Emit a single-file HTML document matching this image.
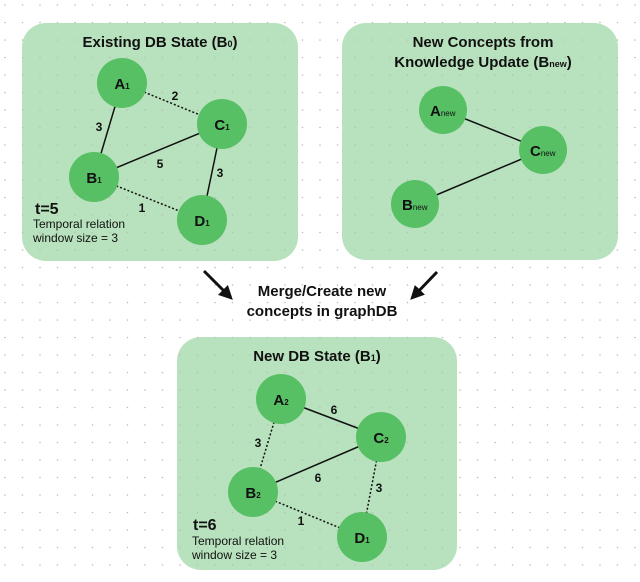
<!DOCTYPE html>
<html><head><style>
body{margin:0;width:640px;height:577px;overflow:hidden;background:#fff;}
svg text{font-family:"Liberation Sans",sans-serif;}
</style></head><body>
<svg width="640" height="577" xmlns="http://www.w3.org/2000/svg">
<defs>
<pattern id="dots" width="17.5" height="17.5" patternUnits="userSpaceOnUse" x="4" y="4">
<circle cx="1" cy="1" r="0.8" fill="#bbb"/>
</pattern>
<marker id="ah" markerWidth="14" markerHeight="14" refX="10" refY="7" orient="auto" markerUnits="userSpaceOnUse">
<path d="M0,0 L14,7 L0,14 z" fill="#111"/>
</marker>
</defs>
<rect width="640" height="577" fill="url(#dots)"/>
<rect x="22" y="23" width="276" height="238" rx="24" fill="#b7e2bd"/>
<rect x="342" y="23" width="276" height="237" rx="24" fill="#b7e2bd"/>
<rect x="177" y="337" width="280" height="233" rx="24" fill="#b7e2bd"/>
<rect x="22" y="23" width="276" height="238" rx="24" fill="url(#dots)"/>
<rect x="342" y="23" width="276" height="237" rx="24" fill="url(#dots)"/>
<rect x="177" y="337" width="280" height="233" rx="24" fill="url(#dots)"/>

<g font-weight="bold" font-size="15" text-anchor="middle" fill="#111">
<text x="160" y="47">Existing DB State (B<tspan font-size="9">0</tspan>)</text>
<text x="483" y="47">New Concepts from</text>
<text x="483" y="67">Knowledge Update (B<tspan font-size="9">new</tspan>)</text>
<text x="322" y="296">Merge/Create new</text>
<text x="322" y="316">concepts in graphDB</text>
<text x="317" y="361">New DB State (B<tspan font-size="9">1</tspan>)</text>
</g>

<line x1="204" y1="271" x2="230" y2="297" stroke="#111" stroke-width="3" marker-end="url(#ah)"/>
<line x1="437" y1="272" x2="413" y2="297" stroke="#111" stroke-width="3" marker-end="url(#ah)"/>

<!-- graph 1 -->
<g stroke="#111" stroke-width="1.5">
<line x1="122" y1="83" x2="94" y2="177"/>
<line x1="222" y1="124" x2="94" y2="177"/>
<line x1="222" y1="124" x2="202" y2="220"/>
<line x1="122" y1="83" x2="222" y2="124" stroke-dasharray="2,2"/>
<line x1="94" y1="177" x2="202" y2="220" stroke-dasharray="2,2"/>
</g>
<g fill="#57bf64">
<circle cx="122" cy="83" r="25"/><circle cx="222" cy="124" r="25"/>
<circle cx="94" cy="177" r="25"/><circle cx="202" cy="220" r="25"/>
</g>
<g font-weight="bold" font-size="15" text-anchor="middle" fill="#111">
<text x="122" y="89">A<tspan font-size="8">1</tspan></text>
<text x="222" y="130">C<tspan font-size="8">1</tspan></text>
<text x="94" y="183">B<tspan font-size="8">1</tspan></text>
<text x="202" y="226">D<tspan font-size="8">1</tspan></text>
<g font-size="12">
<text x="175" y="100">2</text><text x="99" y="131">3</text>
<text x="160" y="168">5</text><text x="220" y="177">3</text>
<text x="142" y="212">1</text>
</g>
<text x="35" y="214" text-anchor="start" font-size="16">t=5</text>
</g>
<g font-size="12" fill="#111">
<text x="33" y="228">Temporal relation</text>
<text x="33" y="242">window size = 3</text>
</g>

<!-- graph 2 -->
<g stroke="#111" stroke-width="1.5">
<line x1="443" y1="110" x2="543" y2="150"/>
<line x1="415" y1="204" x2="543" y2="150"/>
</g>
<g fill="#57bf64">
<circle cx="443" cy="110" r="24"/><circle cx="543" cy="150" r="24"/><circle cx="415" cy="204" r="24"/>
</g>
<g font-weight="bold" font-size="15" fill="#111">
<text x="430" y="116">A<tspan font-size="8" font-weight="normal">new</tspan></text>
<text x="530" y="156">C<tspan font-size="8" font-weight="normal">new</tspan></text>
<text x="402" y="210">B<tspan font-size="8" font-weight="normal">new</tspan></text>
</g>

<!-- graph 3 -->
<g stroke="#111" stroke-width="1.5">
<line x1="281" y1="399" x2="381" y2="437"/>
<line x1="381" y1="437" x2="253" y2="492"/>
<line x1="281" y1="399" x2="253" y2="492" stroke-dasharray="2,2"/>
<line x1="381" y1="437" x2="362" y2="537" stroke-dasharray="2,2"/>
<line x1="253" y1="492" x2="362" y2="537" stroke-dasharray="2,2"/>
</g>
<g fill="#57bf64">
<circle cx="281" cy="399" r="25"/><circle cx="381" cy="437" r="25"/>
<circle cx="253" cy="492" r="25"/><circle cx="362" cy="537" r="25"/>
</g>
<g font-weight="bold" font-size="15" text-anchor="middle" fill="#111">
<text x="281" y="405">A<tspan font-size="8">2</tspan></text>
<text x="381" y="443">C<tspan font-size="8">2</tspan></text>
<text x="253" y="498">B<tspan font-size="8">2</tspan></text>
<text x="362" y="543">D<tspan font-size="8">1</tspan></text>
<g font-size="12">
<text x="334" y="414">6</text><text x="258" y="447">3</text>
<text x="318" y="482">6</text><text x="379" y="492">3</text>
<text x="301" y="525">1</text>
</g>
<text x="193" y="530" text-anchor="start" font-size="16">t=6</text>
</g>
<g font-size="12" fill="#111">
<text x="192" y="545">Temporal relation</text>
<text x="192" y="559">window size = 3</text>
</g>
</svg>
</body></html>
